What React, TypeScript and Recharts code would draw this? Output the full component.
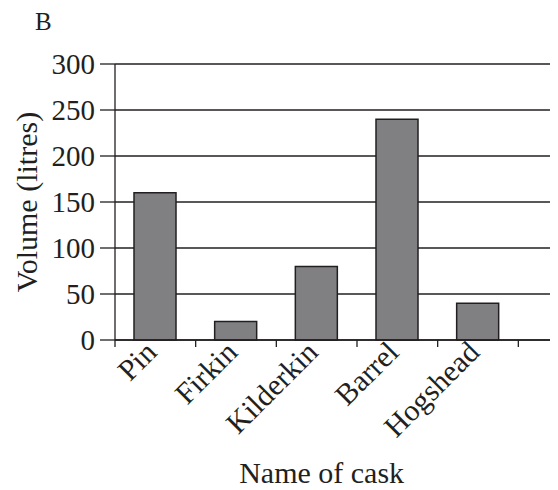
import React from 'react';
import { BarChart, Bar, XAxis, YAxis, CartesianGrid, Label } from 'recharts';

const categories = ['Pin', 'Firkin', 'Kilderkin', 'Barrel', 'Hogshead', ''];
const volumes: (number | null)[] = [160, 20, 80, 240, 40, null];
const yTicks = [0, 50, 100, 150, 200, 250, 300];

const data = categories.map((name, i) => ({ name, volume: volumes[i] }));

const FONT = 'Liberation Serif, DejaVu Serif, serif';
const INK = '#231f20';
const CHART_W = 591;
const CHART_H = 480;
const Y_AXIS_W = 107;
const PLOT_W = CHART_W - Y_AXIS_W;
const BAND = PLOT_W / categories.length;

function XTick(props: any) {
  const { x, y, payload } = props;
  const left = x - BAND / 2;
  const ax = x + 3;
  const ay = y + 14;
  return (
    <g>
      <line x1={left} x2={left} y1={y} y2={y + 7} stroke={INK} strokeWidth={1.3} />
      {payload.value ? (
        <text
          x={ax}
          y={ay}
          textAnchor="end"
          transform={`rotate(-45, ${ax}, ${ay})`}
          style={{ fontFamily: FONT, fontSize: 30 }}
          fill={INK}
        >
          {payload.value}
        </text>
      ) : null}
    </g>
  );
}

export default function App() {
  return (
    <div style={{ width: 550, height: 482, overflow: 'hidden', fontFamily: FONT }}>
      <BarChart
        width={CHART_W}
        height={CHART_H}
        data={data}
        margin={{ top: 56, right: 0, bottom: 0, left: 0 }}
        style={{ fontFamily: FONT }}
      >
        <CartesianGrid vertical={false} stroke={INK} strokeWidth={1.3} />
        <XAxis
          dataKey="name"
          interval={0}
          tickSize={0}
          tickMargin={0}
          height={148}
          axisLine={{ stroke: INK, strokeWidth: 1.3 }}
          tick={<XTick />}
        >
          <Label
            content={(p: any) => {
              const vb = p.viewBox;
              return (
                <text
                  x={vb.x + (vb.width * 5) / 12 + 5}
                  y={vb.y + 143}
                  textAnchor="middle"
                  style={{ fontFamily: FONT, fontSize: 30 }}
                  fill={INK}
                >
                  Name of cask
                </text>
              );
            }}
          />
        </XAxis>
        <YAxis
          width={Y_AXIS_W}
          domain={[0, 300]}
          ticks={yTicks}
          interval={0}
          tickSize={15}
          tickMargin={5}
          axisLine={{ stroke: INK, strokeWidth: 1.3 }}
          tickLine={{ stroke: INK, strokeWidth: 1.3 }}
          tick={{ fontFamily: FONT, fontSize: 29, fill: INK, style: { fontFamily: FONT } }}
        >
          <Label
            content={(p: any) => {
              const vb = p.viewBox;
              const cy = vb.y + vb.height / 2;
              return (
                <g>
                  <text
                    x={28.5}
                    y={cy}
                    textAnchor="middle"
                    transform={`rotate(-90, 28.5, ${cy})`}
                    style={{ fontFamily: FONT, fontSize: 30 }}
                    fill={INK}
                  >
                    Volume (litres)
                  </text>
                  <text x={27} y={22} style={{ fontFamily: FONT, fontSize: 25 }} fill={INK}>
                    B
                  </text>
                </g>
              );
            }}
          />
        </YAxis>
        <Bar
          dataKey="volume"
          fill="#808083"
          stroke={INK}
          strokeWidth={1.5}
          barSize={42}
          isAnimationActive={false}
        />
      </BarChart>
    </div>
  );
}
